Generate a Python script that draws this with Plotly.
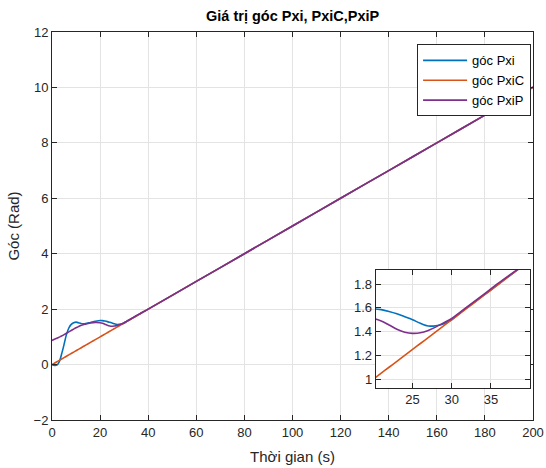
import plotly.graph_objects as go

# time (s)
t = [0, 1, 2, 3, 4, 5, 6, 7, 8, 9, 10, 11, 12, 13, 14, 16, 18, 20,
     21, 22, 23, 24, 25, 26, 27, 28, 29, 30, 31, 32, 34, 36, 38, 40,
     60, 80, 100, 120, 140, 160, 180, 200]

goc_pxi = [0.0, -0.03, -0.02, 0.10, 0.38, 0.72, 1.08, 1.32, 1.45, 1.51, 1.53, 1.51, 1.48, 1.47, 1.48, 1.52, 1.56, 1.59,
           1.585, 1.57, 1.55, 1.525, 1.50, 1.47, 1.447, 1.45, 1.467, 1.50, 1.555, 1.605, 1.703, 1.802, 1.901, 2.0,
           3.0, 4.0, 5.0, 6.0, 7.0, 8.0, 9.0, 10.0]

goc_pxic = [0.0, 0.05, 0.10, 0.15, 0.20, 0.25, 0.30, 0.35, 0.40, 0.45, 0.50, 0.55, 0.60, 0.65, 0.70, 0.80, 0.90, 1.00,
            1.05, 1.10, 1.15, 1.20, 1.25, 1.30, 1.35, 1.40, 1.45, 1.50, 1.55, 1.60, 1.70, 1.80, 1.90, 2.00,
            3.0, 4.0, 5.0, 6.0, 7.0, 8.0, 9.0, 10.0]

goc_pxip = [0.87, 0.91, 0.95, 0.99, 1.03, 1.08, 1.13, 1.18, 1.23, 1.28, 1.33, 1.37, 1.41, 1.44, 1.46, 1.50, 1.52, 1.51,
            1.49, 1.456, 1.42, 1.395, 1.385, 1.39, 1.41, 1.44, 1.475, 1.51, 1.56, 1.61, 1.71, 1.81, 1.905, 2.0,
            3.0, 4.0, 5.0, 6.0, 7.0, 8.0, 9.0, 10.02]

names = ["góc Pxi", "góc PxiC", "góc PxiP"]
colors = ["#0072BD", "#D95319", "#7E2F8E"]
series = [goc_pxi, goc_pxic, goc_pxip]

FONT = "Liberation Sans, Arial, Helvetica, sans-serif"
AX = "#262626"
GRID = "#e3e3e3"

fig = go.Figure()
for name, col, ys in zip(names, colors, series):
    fig.add_trace(go.Scatter(x=t, y=ys, name=name, mode="lines",
                             line=dict(color=col, width=1.6, shape="spline", smoothing=0.8),
                             xaxis="x", yaxis="y"))
for name, col, ys in zip(names, colors, series):
    fig.add_trace(go.Scatter(x=t, y=ys, name=name, mode="lines", showlegend=False,
                             line=dict(color=col, width=1.6, shape="spline", smoothing=0.8),
                             xaxis="x2", yaxis="y2"))

axis_common = dict(showline=True, linecolor=AX, linewidth=1, mirror="ticks", ticks="inside",
                   ticklen=5, tickcolor=AX, showgrid=True, gridcolor=GRID, zeroline=False,
                   automargin=False,
                   tickfont=dict(family=FONT, size=13, color=AX))

fig.update_layout(
    width=546, height=468, autosize=False,
    margin=dict(l=52, r=13, t=32, b=48),
    paper_bgcolor="white", plot_bgcolor="white",
    font=dict(family=FONT, color=AX),
    title=dict(text="<b>Giá trị góc Pxi, PxiC,PxiP</b>", x=0.536, xanchor="center",
               y=0.966, yanchor="middle", font=dict(family=FONT, size=14.5, color="black")),
    xaxis=dict(domain=[0, 1], range=[0, 200], tickvals=list(range(0, 201, 20)),
               title=dict(text="Thời gian (s)", font=dict(family=FONT, size=15, color=AX), standoff=12),
               **axis_common),
    yaxis=dict(domain=[0, 1], range=[-2, 12], tickvals=list(range(-2, 13, 2)),
               title=dict(text="Góc (Rad)", font=dict(family=FONT, size=15, color=AX), standoff=10),
               **axis_common),
    xaxis2=dict(domain=[0.673, 0.994], range=[20.3, 40], tickvals=[25, 30, 35], anchor="y2",
                **axis_common),
    yaxis2=dict(domain=[0.083, 0.387], range=[0.927, 1.92], tickvals=[1, 1.2, 1.4, 1.6, 1.8],
                ticktext=["1", "1.2", "1.4", "1.6", "1.8"], anchor="x2",
                **axis_common),
    legend=dict(x=0.996, y=0.968, xanchor="right", yanchor="top",
                bgcolor="white", bordercolor=AX, borderwidth=1,
                font=dict(family=FONT, size=13, color="black"),
                itemwidth=44, tracegroupgap=0),
    showlegend=True,
)

fig.write_html("out.html", config={"responsive": False, "displayModeBar": False},
               post_script="document.body.style.margin='0px';document.body.style.overflow='hidden';")
